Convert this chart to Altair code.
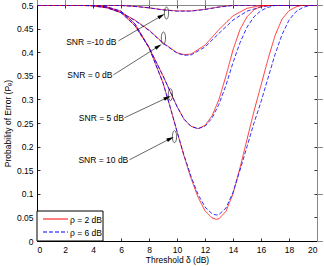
import altair as alt
import pandas as pd

# ---------------- data ----------------
rho_labels = ["ρ = 2 dB", "ρ = 6 dB"]
snr_names = ["SNR =-10 dB", "SNR = 0 dB", "SNR = 5 dB", "SNR = 10 dB"]

x_m10 = [0, 2, 4, 5, 6, 7, 8, 9, 10, 11, 12, 13, 14, 16, 20]
y_m10_r2 = [0.5, 0.5, 0.5, 0.4995, 0.499, 0.497, 0.494, 0.49, 0.4875, 0.4875, 0.491, 0.496, 0.4995, 0.5, 0.5]
y_m10_r6 = [0.5, 0.5, 0.5, 0.4995, 0.499, 0.497, 0.494, 0.4895, 0.487, 0.487, 0.4905, 0.4955, 0.499, 0.5, 0.5]

x_0 = [0, 2, 3, 4, 5, 6, 7, 8, 9, 10, 10.5, 11, 12, 13, 14, 15, 16, 17, 20]
y_0_r2 = [0.5, 0.5, 0.4995, 0.498, 0.494, 0.484, 0.468, 0.447, 0.42, 0.399, 0.395, 0.396, 0.415, 0.448, 0.477, 0.493, 0.499, 0.5, 0.5]
y_0_r6 = [0.5, 0.5, 0.4995, 0.498, 0.494, 0.484, 0.467, 0.446, 0.419, 0.398, 0.3935, 0.394, 0.411, 0.44, 0.468, 0.487, 0.496, 0.5, 0.5]

x_5 = [0, 2, 4, 5, 6, 7, 8, 9, 10, 10.5, 11, 11.5, 12, 12.5, 13, 13.5, 14, 14.5, 15, 15.5, 16, 16.5, 17, 20]
y_5_r2 = [0.5, 0.5, 0.499, 0.495, 0.484, 0.456, 0.41, 0.35, 0.285, 0.258, 0.243, 0.238, 0.245, 0.265, 0.3, 0.35, 0.405, 0.448, 0.475, 0.49, 0.497, 0.499, 0.5, 0.5]
y_5_r6 = [0.5, 0.5, 0.499, 0.495, 0.484, 0.456, 0.41, 0.35, 0.285, 0.258, 0.243, 0.238, 0.243, 0.26, 0.29, 0.33, 0.378, 0.42, 0.453, 0.475, 0.488, 0.495, 0.499, 0.5]

x_10 = [0, 2, 4, 5, 6, 7, 8, 9, 9.5, 10, 10.5, 11, 11.5, 12, 12.5, 12.8, 13, 13.5, 14, 14.5, 15, 15.5, 16, 16.5, 17, 17.5, 18, 18.5, 19, 19.5, 20]
y_10_r2 = [0.5, 0.5, 0.499, 0.496, 0.487, 0.46, 0.41, 0.335, 0.285, 0.232, 0.18, 0.133, 0.093, 0.064, 0.049, 0.046, 0.047, 0.063, 0.1, 0.155, 0.215, 0.275, 0.33, 0.385, 0.435, 0.47, 0.488, 0.496, 0.5, 0.5, 0.5]
y_10_r6 = [0.5, 0.5, 0.499, 0.496, 0.487, 0.46, 0.41, 0.335, 0.285, 0.232, 0.182, 0.137, 0.099, 0.072, 0.058, 0.055, 0.056, 0.07, 0.103, 0.15, 0.2, 0.25, 0.295, 0.345, 0.395, 0.437, 0.468, 0.486, 0.495, 0.499, 0.5]

x_ticks = [0, 2, 4, 6, 8, 10, 12, 14, 16, 18, 20]
y_ticks = [0, 0.05, 0.1, 0.15, 0.2, 0.25, 0.3, 0.35, 0.4, 0.45, 0.5]

# annotation anchors (data units)
label_x = [3.88, 3.78, 4.6, 4.74]
label_y = [0.422, 0.352, 0.261, 0.172]
arrow_x0 = [5.82, 5.46, 6.24, 6.6]
arrow_y0 = [0.424, 0.352, 0.261, 0.172]
arrow_x1 = [8.89, 8.68, 9.32, 9.53]
arrow_y1 = [0.477, 0.4125, 0.304, 0.217]
ell_x = [9.25, 9.03, 9.53, 9.82]
ell_y = [0.483, 0.43, 0.31, 0.221]
arrow_angle = [330, 328, 335, 333]

# ---------------- build table ----------------
rows = []
curves = [
    (snr_names[0], x_m10, y_m10_r2, y_m10_r6),
    (snr_names[1], x_0, y_0_r2, y_0_r6),
    (snr_names[2], x_5, y_5_r2, y_5_r6),
    (snr_names[3], x_10, y_10_r2, y_10_r6),
]
for name, xs_, y2s, y6s in curves:
    for i, (xv, yv) in enumerate(zip(xs_, y2s)):
        rows.append(dict(x=xv, y=yv, rho=rho_labels[0], series=name + rho_labels[0], o=i))
    for i, (xv, yv) in enumerate(zip(xs_, y6s)):
        rows.append(dict(x=xv, y=yv, rho=rho_labels[1], series=name + rho_labels[1], o=i))
df = pd.DataFrame(rows)

ann = pd.DataFrame(dict(label=snr_names, lx=label_x, ly=label_y, x0=arrow_x0, y0=arrow_y0,
                        x1=arrow_x1, y1=arrow_y1, ex=ell_x, ey=ell_y, ang=arrow_angle))
leg = pd.DataFrame(dict(rho=rho_labels))

W, H = 280, 236
FONT = "Liberation Sans"
COLORS = ["#ff0000", "#0000ff"]
DASHES = [[1, 0], [4, 2]]
xs = alt.Scale(domain=[0, 20], nice=False, zero=False)
ys = alt.Scale(domain=[0, 0.5], nice=False, zero=False)
cscale = alt.Scale(domain=rho_labels, range=COLORS)
dscale = alt.Scale(domain=rho_labels, range=DASHES)

lines = alt.Chart(df).mark_line(strokeWidth=0.8, clip=True).encode(
    x=alt.X("x:Q", scale=xs, axis=alt.Axis(
        values=x_ticks, orient="bottom", title="Threshold δ (dB)", ticks=False, domain=False,
        grid=False, labelFontSize=8.5, titleFontSize=8.5, titleFontWeight="normal",
        labelPadding=4, titlePadding=2, labelFont=FONT, titleFont=FONT, labelColor="black",
        titleColor="black")),
    y=alt.Y("y:Q", scale=ys, axis=alt.Axis(
        values=y_ticks, orient="left", format=".2~f", title="Probability of Error (Pₑ)",
        ticks=False, domain=False, grid=False, labelFontSize=8.5, titleFontSize=8.5,
        titleFontWeight="normal", labelPadding=4, titlePadding=4, labelFont=FONT,
        titleFont=FONT, labelColor="black", titleColor="black")),
    color=alt.Color("rho:N", scale=cscale, legend=None),
    strokeDash=alt.StrokeDash("rho:N", scale=dscale, legend=None),
    detail="series:N",
    order="o:Q",
)


def tick_layer(xorient, yorient):
    return alt.Chart(df).mark_point(opacity=0).encode(
        x=alt.X("x:Q", scale=xs, axis=alt.Axis(
            values=x_ticks, orient=xorient, offset=-H, labels=False, title=None, domain=False,
            grid=False, ticks=True, tickSize=3, tickColor="black", tickWidth=0.8)),
        y=alt.Y("y:Q", scale=ys, axis=alt.Axis(
            values=y_ticks, orient=yorient, offset=-W, labels=False, title=None, domain=False,
            grid=False, ticks=True, tickSize=3, tickColor="black", tickWidth=0.8)),
    )


ticks_a = tick_layer("top", "right")     # drawn at bottom / left edges, pointing inward
ticks_b = tick_layer("bottom", "left")   # drawn at top / right edges, pointing inward

texts = alt.Chart(ann).mark_text(fontSize=8.5, font=FONT, color="black").encode(
    x=alt.X("lx:Q", scale=xs), y=alt.Y("ly:Q", scale=ys), text="label:N")
arrows = alt.Chart(ann).mark_rule(strokeWidth=0.6, color="black").encode(
    x=alt.X("x0:Q", scale=xs), y=alt.Y("y0:Q", scale=ys), x2="x1:Q", y2="y1:Q")
heads = alt.Chart(ann).mark_point(shape="M1,0L-1,-0.5L-1,0.5Z", filled=True, color="black",
                                  size=56, opacity=1, strokeWidth=0).encode(
    x=alt.X("x1:Q", scale=xs), y=alt.Y("y1:Q", scale=ys), angle=alt.Angle("ang:Q", scale=None))
ellipses = alt.Chart(ann).mark_point(
    shape="M0,-1A0.35,1,0,1,1,0,1A0.35,1,0,1,1,0,-1", filled=False, color="black",
    strokeWidth=0.6, size=144, opacity=1).encode(
    x=alt.X("ex:Q", scale=xs), y=alt.Y("ey:Q", scale=ys))

# legend box (drawn in the lower-left corner of the plot area)
leg_box = alt.Chart(leg).transform_filter(alt.datum.rho == rho_labels[0]).mark_rect(
    fill="white", stroke="black", strokeWidth=1).encode(
    x=alt.value(0), x2=alt.value(66), y=alt.value(206), y2=alt.value(236))


def leg_row(i, ypix):
    sub = alt.Chart(leg).transform_filter(alt.datum.rho == rho_labels[i])
    ln = sub.mark_rule(strokeWidth=1, color=COLORS[i], strokeDash=DASHES[i]).encode(
        x=alt.value(6), x2=alt.value(31), y=alt.value(ypix))
    tx = sub.mark_text(fontSize=8.5, font=FONT, color="black", align="left",
                       baseline="middle").encode(
        x=alt.value(33), y=alt.value(ypix + 1), text="rho:N")
    return ln + tx


chart = alt.layer(lines, ticks_a, ticks_b, texts, arrows, heads, ellipses,
                  leg_box, leg_row(0, 214), leg_row(1, 227)).resolve_axis(
    x="independent", y="independent"
).properties(
    width=W, height=H,
    autosize=alt.AutoSizeParams(type="none"),
    padding={"left": 37, "top": 5, "right": 7, "bottom": 25},
    background="white",
).configure_view(
    stroke="black", strokeWidth=1
)

chart.save("out.html", embed_options={"renderer": "svg", "actions": False})
